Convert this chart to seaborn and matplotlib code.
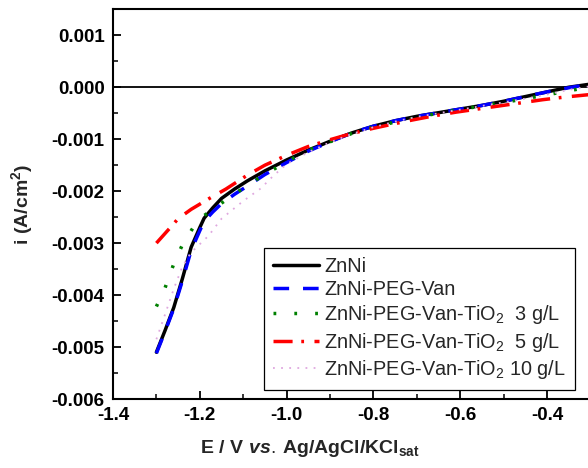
import numpy as np
import pandas as pd
import matplotlib
matplotlib.use("Agg")
import matplotlib.pyplot as plt
import seaborn as sns

# ---- data (E in V, i in mA/cm^2 -> converted to A/cm^2 below) ----
x_znni = [-1.30, -1.28, -1.26, -1.24, -1.22, -1.20, -1.19, -1.17, -1.15, -1.12, -1.09, -1.05,
          -1.00, -0.95, -0.90, -0.85, -0.80, -0.75, -0.70, -0.65, -0.60, -0.55, -0.50, -0.45,
          -0.40, -0.35, -0.30]
y_znni = [-5.10, -4.68, -4.24, -3.68, -3.08, -2.70, -2.52, -2.32, -2.14, -1.96, -1.80, -1.61,
          -1.40, -1.21, -1.04, -0.88, -0.75, -0.645, -0.56, -0.49, -0.42, -0.35, -0.27, -0.18,
          -0.09, 0.00, 0.06]

x_peg = [-1.30, -1.28, -1.26, -1.24, -1.22, -1.20, -1.19, -1.17, -1.15, -1.12, -1.09, -1.05,
         -1.00, -0.95, -0.90, -0.85, -0.80, -0.75, -0.70, -0.65, -0.60, -0.55, -0.50, -0.45,
         -0.40, -0.35, -0.30]
y_peg = [-5.12, -4.70, -4.26, -3.72, -3.14, -2.76, -2.58, -2.40, -2.24, -2.06, -1.90, -1.68,
         -1.45, -1.23, -1.05, -0.88, -0.75, -0.645, -0.56, -0.49, -0.42, -0.35, -0.27, -0.18,
         -0.09, -0.01, 0.06]

x_ti3 = [-1.30, -1.28, -1.26, -1.24, -1.21, -1.19, -1.15, -1.11, -1.07, -1.03, -0.99, -0.95,
         -0.90, -0.85, -0.80, -0.76, -0.67, -0.58, -0.49, -0.39, -0.35, -0.30]
y_ti3 = [-4.22, -3.86, -3.40, -3.03, -2.63, -2.47, -2.23, -2.00, -1.78, -1.58, -1.39, -1.21,
         -1.05, -0.89, -0.77, -0.69, -0.53, -0.40, -0.28, -0.13, -0.07, 0.01]

x_ti5 = [-1.30, -1.27, -1.25, -1.22, -1.18, -1.14, -1.09, -1.05, -1.00, -0.95, -0.90, -0.85,
         -0.80, -0.75, -0.71, -0.66, -0.61, -0.56, -0.51, -0.46, -0.41, -0.36, -0.30]
y_ti5 = [-3.00, -2.72, -2.53, -2.35, -2.15, -1.96, -1.69, -1.50, -1.31, -1.14, -1.01, -0.89,
         -0.79, -0.70, -0.63, -0.55, -0.48, -0.42, -0.36, -0.30, -0.24, -0.19, -0.14]

x_ti10 = [-1.30, -1.28, -1.26, -1.24, -1.22, -1.18, -1.15, -1.10, -1.06, -1.03, -1.00, -0.95,
          -0.90, -0.85, -0.80, -0.75, -0.70, -0.65, -0.60, -0.55, -0.50, -0.45, -0.40, -0.35,
          -0.30]
y_ti10 = [-4.85, -4.37, -3.88, -3.45, -3.18, -2.86, -2.53, -2.19, -1.95, -1.70, -1.48, -1.25,
          -1.06, -0.90, -0.77, -0.66, -0.57, -0.50, -0.43, -0.36, -0.29, -0.22, -0.14, -0.05,
          0.02]

labels = ["ZnNi", "ZnNi-PEG-Van", "ZnNi-PEG-Van-TiO$_2$  3 g/L",
          "ZnNi-PEG-Van-TiO$_2$  5 g/L", "ZnNi-PEG-Van-TiO$_2$ 10 g/L"]
x_ticks = [-1.4, -1.2, -1.0, -0.8, -0.6, -0.4]
y_ticks = [-0.006, -0.005, -0.004, -0.003, -0.002, -0.001, 0.000, 0.001]

# ---- style ----
sns.set_theme(style="ticks")
plt.rcParams["font.family"] = ["Liberation Sans", "DejaVu Sans"]
plt.rcParams["mathtext.fontset"] = "custom"
plt.rcParams["mathtext.rm"] = "Liberation Sans"
plt.rcParams["mathtext.it"] = "Liberation Sans:italic:bold"
plt.rcParams["mathtext.bf"] = "Liberation Sans:bold"

fig = plt.figure(figsize=(5.88, 4.68), dpi=100)
ax = fig.add_axes([113 / 588, 1 - 399 / 468, 475 / 588, (399 - 9.3) / 468])

series = [
    (x_znni, y_znni, "black", 2.5, "-"),
    (x_peg, y_peg, "#0000ff", 2.5, (0, (4.5, 4))),
    (x_ti3, y_ti3, "#008000", 2.5, (0, (0.8, 5.2))),
    (x_ti5, y_ti5, "#ff0000", 2.5, (0, (5.5, 2.5, 0.8, 3))),
    (x_ti10, y_ti10, "#dfa8df", 1.3, (0, (1, 3.5))),
]

ax.axhline(0, color="black", lw=1.3, zorder=1)
for (xs, ys, c, lw, ls), lab in zip(series, labels):
    df = pd.DataFrame({"E": xs, "i": np.array(ys) * 1e-3})
    sns.lineplot(data=df, x="E", y="i", ax=ax, color=c, lw=lw, linestyle=ls,
                 label=lab, sort=False, estimator=None, zorder=3)

ax.set_xlim(-1.4, -1.4 + 475 / 434)
ax.set_ylim(-0.006, 0.0015)
ax.set_xticks(x_ticks)
ax.set_yticks(y_ticks)
ax.set_xticklabels([f"{v:.1f}" for v in x_ticks])
ax.set_yticklabels([f"{v:.3f}" for v in y_ticks])
ax.xaxis.set_minor_locator(matplotlib.ticker.MultipleLocator(0.1))
ax.yaxis.set_minor_locator(matplotlib.ticker.MultipleLocator(0.0005))
ax.tick_params(which="major", direction="in", length=6, width=1.3, pad=6,
               labelsize=13.5, colors="black")
ax.tick_params(which="minor", direction="in", length=3.5, width=1.3)
for t in ax.get_xticklabels() + ax.get_yticklabels():
    t.set_fontweight("bold")
for s in ["left", "bottom", "top"]:
    ax.spines[s].set_linewidth(1.5)
    ax.spines[s].set_color("black")
ax.spines["right"].set_visible(False)

ax.set_xlabel(r"$\mathbf{E\ /\ V}\ \mathit{vs.}\,\mathbf{Ag/AgCl/KCl}_{\mathbf{sat}}$",
              fontsize=14)
ax.set_ylabel(r"$\mathbf{i\ (A/cm^{2})}$", fontsize=14)
ax.xaxis.set_label_coords(0.415, -0.10)
ax.yaxis.set_label_coords(-0.165, 0.5)

leg = ax.legend(loc="lower right", bbox_to_anchor=(0.973, 0.023), fontsize=14.3,
                frameon=True, fancybox=False, edgecolor="black", framealpha=1,
                handlelength=2.3, handletextpad=0.3, labelspacing=0.22,
                borderpad=0.45, borderaxespad=0)
leg.get_frame().set_linewidth(0.9)

fig.savefig("out.png", dpi=100)
